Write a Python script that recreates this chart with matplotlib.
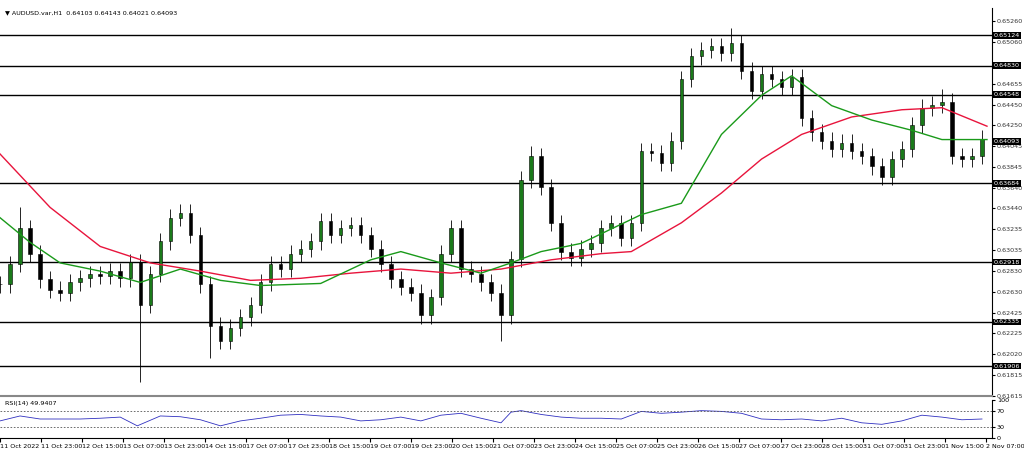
import matplotlib
matplotlib.use("Agg")
import matplotlib.pyplot as plt

closes = [0.6270,0.6290,0.6325,0.6300,0.6275,0.6265,0.6262,0.6272,0.6276,0.6280,
0.6278,0.6283,0.6276,0.6292,0.6250,0.6280,0.6312,0.6335,0.6340,0.6318,
0.6270,0.6230,0.6215,0.6228,0.6238,0.6250,0.6272,0.6290,0.6285,0.6300,
0.6305,0.6312,0.6332,0.6318,0.6325,0.6328,0.6318,0.6305,0.6290,0.6275,
0.6268,0.6262,0.6240,0.6258,0.6300,0.6325,0.6285,0.6280,0.6272,0.6262,
0.6240,0.6295,0.6372,0.6395,0.6365,0.6330,0.6302,0.6296,0.6305,0.6310,
0.6325,0.6330,0.6315,0.6330,0.6400,0.6398,0.6388,0.6410,0.6470,0.6492,
0.6498,0.6502,0.6495,0.6505,0.6478,0.6458,0.6475,0.6470,0.6462,0.6472,
0.6432,0.6418,0.6410,0.6402,0.6408,0.6400,0.6395,0.6385,0.6375,0.6392,
0.6402,0.6425,0.6442,0.6445,0.6448,0.6395,0.6392,0.6395,0.6412]
spike_low = {14: 0.6175, 21: 0.6198, 50: 0.6215}
spike_high = {2: 0.6345, 73: 0.6520, 94: 0.6460, 53: 0.6405}

red_x = [0,50,100,150,200,250,300,350,400,450,500,550,600,630,680,720,760,800,850,900,940,985]
red_y = [0.6397,0.6345,0.6307,0.6291,0.6283,0.6274,0.6276,0.6281,0.6285,0.6281,0.6285,0.6294,0.6300,0.6302,0.6330,0.6359,0.6392,0.6416,0.6433,0.6440,0.6442,0.6424]
green_x = [0,30,60,100,140,180,220,260,320,370,400,440,480,510,540,580,640,680,720,760,790,830,870,910,940,985]
green_y = [0.6335,0.6311,0.6291,0.6283,0.6272,0.6285,0.6274,0.6269,0.6271,0.6294,0.6302,0.6291,0.6281,0.6291,0.6302,0.6310,0.6338,0.6349,0.6416,0.6454,0.6473,0.6444,0.6430,0.6420,0.6411,0.6411]

rsi_x = [0,20,40,60,80,100,120,137,160,180,200,220,240,260,280,300,320,340,360,380,400,420,440,460,480,500,510,520,540,560,580,600,620,640,660,680,700,720,740,760,780,800,820,840,860,880,900,920,940,960,980]
rsi_y = [45,58,50,50,50,52,55,32,58,56,48,32,45,52,60,62,58,55,45,48,55,45,60,65,52,40,68,72,62,55,52,52,50,70,65,68,72,70,65,50,48,50,45,52,40,36,45,60,55,48,50]

levels = [0.65124, 0.64830, 0.64548, 0.63684, 0.62918, 0.62335, 0.61906]
yticks = [0.65260,0.65060,0.64655,0.64450,0.64250,0.64045,0.63845,0.63640,0.63440,0.63235,0.63035,0.62830,0.62630,0.62425,0.62225,0.62020,0.61815,0.61615]
xlabels = ["11 Oct 2022","11 Oct 23:00","12 Oct 15:00","13 Oct 07:00","13 Oct 23:00","14 Oct 15:00",
"17 Oct 07:00","17 Oct 23:00","18 Oct 15:00","19 Oct 07:00","19 Oct 23:00","20 Oct 15:00","21 Oct 07:00",
"23 Oct 23:00","24 Oct 15:00","25 Oct 07:00","25 Oct 23:00","26 Oct 15:00","27 Oct 07:00","27 Oct 23:00",
"28 Oct 15:00","31 Oct 07:00","31 Oct 23:00","1 Nov 15:00","2 Nov 07:00"]
last_price = 0.64093

fig = plt.figure(figsize=(10.24, 4.53), dpi=100)
W, H = 1024, 453
ax = fig.add_axes([0, 1-396/H, 992/W, 388/H])
ar = fig.add_axes([0, 1-438/H, 992/W, 38/H])
fs = 4.6

ax.set_xlim(0, 990)
ax.set_ylim(0.6163, 0.6539)
for i, c in enumerate(closes):
    x = 10*i
    o = closes[i-1] if i > 0 else c
    hi = max(o, c) + 0.0008
    lo = min(o, c) - 0.0008
    hi = spike_high.get(i, hi); lo = spike_low.get(i, lo)
    up = c >= o
    ax.vlines(x, lo, hi, color='black', lw=0.6, zorder=3)
    ax.bar(x, abs(c-o) if abs(c-o) > 0.00005 else 0.00005, bottom=min(o, c), width=3.5,
           color='#1a7a1a' if up else 'black', edgecolor='black', lw=0.4, zorder=4)
ax.plot(red_x, red_y, color='#e8143c', lw=1.0, zorder=5)
ax.plot(green_x, green_y, color='#1a9a1a', lw=1.0, zorder=5)
for lv in levels:
    ax.axhline(lv, color='black', lw=1.0, zorder=2)
ax.set_xticks([])
ax.yaxis.tick_right()
ax.set_yticks(yticks)
ax.set_yticklabels([f"{v:.5f}" for v in yticks], fontsize=fs, color='#333333')
ax.tick_params(axis='y', length=2, pad=1.5)
for lv in levels + [last_price]:
    ax.text(1.002, lv, f"{lv:.5f}", transform=ax.get_yaxis_transform(), fontsize=fs,
            color='white', va='center', ha='left',
            bbox=dict(boxstyle='square,pad=0.12', fc='black', ec='none'), zorder=10, clip_on=False)
ax.text(0.005, 0.995, "▼ AUDUSD.var,H1  0.64103 0.64143 0.64021 0.64093", transform=ax.transAxes,
        fontsize=fs, va='top', ha='left')
for s in ['top', 'left']:
    ax.spines[s].set_visible(False)
ax.spines['bottom'].set_color('#888888'); ax.spines['bottom'].set_linewidth(1.5)

ar.set_xlim(0, 990); ar.set_ylim(0, 100)
ar.plot(rsi_x, rsi_y, color='#3030c0', lw=0.6)
ar.axhline(70, color='#555555', ls=(0, (2, 2)), lw=0.6)
ar.axhline(30, color='#555555', ls=(0, (2, 2)), lw=0.6)
ar.yaxis.tick_right()
ar.set_yticks([0, 30, 70, 100])
ar.set_yticklabels(['0', '30', '70', '100'], fontsize=fs)
ar.tick_params(axis='y', length=2, pad=1.5)
ar.text(0.005, 0.97, "RSI(14) 49.9407", transform=ar.transAxes, fontsize=fs, va='top')
xt = [i*41.0 for i in range(len(xlabels))]
ar.set_xticks(xt)
ar.set_xticklabels(xlabels, fontsize=fs, ha='left')
ar.tick_params(axis='x', length=3, pad=1)
for s in ['top', 'left']:
    ar.spines[s].set_visible(False)
fig.savefig("out.png", dpi=100)
